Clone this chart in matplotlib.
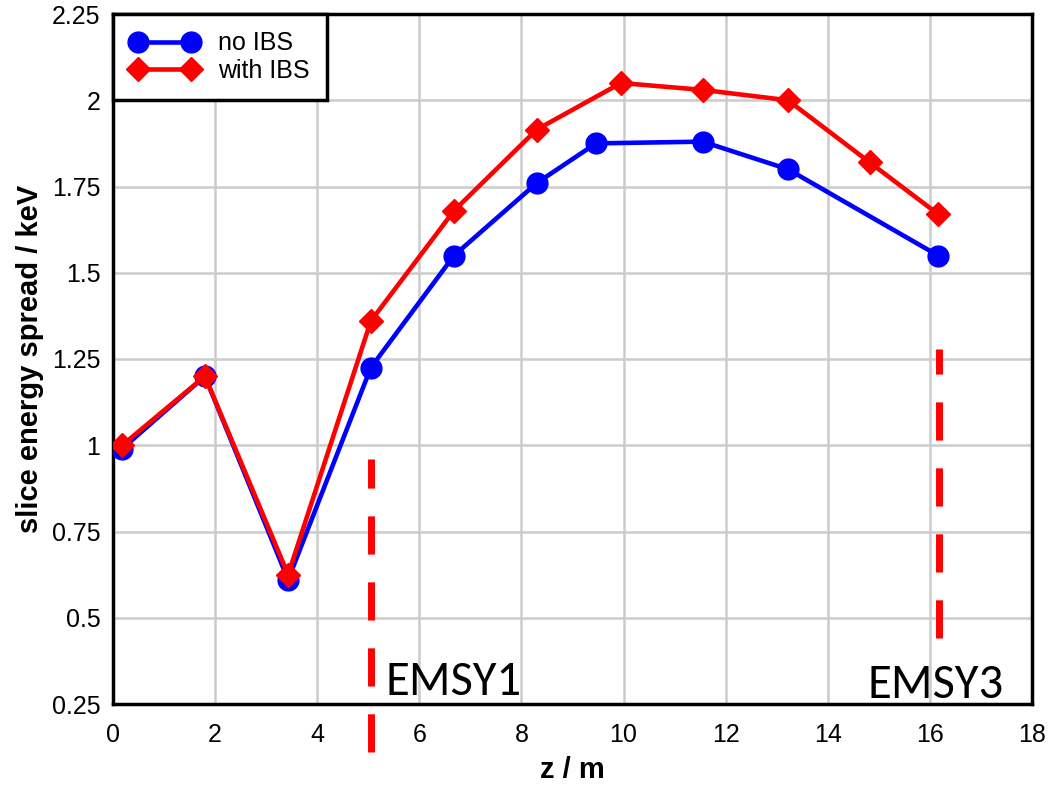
import matplotlib
matplotlib.use("Agg")
import matplotlib.pyplot as plt

# slice energy spread along the beamline
z_no_ibs = [0.18, 1.80, 3.43, 5.05, 6.68, 8.30, 9.46, 11.55, 13.22, 16.16]
spread_no_ibs = [0.99, 1.20, 0.61, 1.225, 1.55, 1.76, 1.875, 1.88, 1.80, 1.55]

z_with_ibs = [0.18, 1.80, 3.43, 5.05, 6.68, 8.30, 9.95, 11.55, 13.22, 14.82, 16.16]
spread_with_ibs = [1.00, 1.20, 0.625, 1.36, 1.68, 1.915, 2.05, 2.03, 2.00, 1.82, 1.67]

# screen positions and the vertical extent of their markers
screen_names = ["EMSY1", "EMSY3"]
screen_z = [5.05, 16.18]
screen_ymin = [0.11, 0.44]
screen_ymax = [0.96, 1.28]

x_ticks = list(range(0, 19, 2))
y_ticks = [0.25, 0.5, 0.75, 1.0, 1.25, 1.5, 1.75, 2.0, 2.25]
y_tick_labels = ["0.25", "0.5", "0.75", "1", "1.25", "1.5", "1.75", "2", "2.25"]

plt.rcParams["font.family"] = ["Liberation Sans", "DejaVu Sans"]

fig = plt.figure(figsize=(10.5, 7.86), dpi=100)
ax = fig.add_axes([113 / 1050, 1 - 704 / 786, (1032 - 113) / 1050, (704 - 14) / 786])

ax.plot(z_no_ibs, spread_no_ibs, color="#0000ff", lw=3.3, marker="o", ms=15,
        label="no IBS", zorder=3)
ax.plot(z_with_ibs, spread_with_ibs, color="#ff0000", lw=3.3, marker="D", ms=12,
        label="with IBS", zorder=4)

for name, z, y0, y1 in zip(screen_names, screen_z, screen_ymin, screen_ymax):
    ax.plot([z, z], [y0, y1], color="#ff0000", lw=5, ls=(0, (5.5, 4)),
            clip_on=False, zorder=5)

ax.text(5.33, 0.277, screen_names[0], fontsize=35, family="Carlito",
        ha="left", va="baseline", zorder=6)
ax.text(17.45, 0.267, screen_names[1], fontsize=35, family="Carlito",
        ha="right", va="baseline", zorder=6)

ax.set_xlim(0, 18)
ax.set_ylim(0.25, 2.25)
ax.set_xticks(x_ticks)
ax.set_yticks(y_ticks)
ax.set_yticklabels(y_tick_labels)
ax.tick_params(length=0, labelsize=18)
ax.tick_params(axis="x", pad=14)
ax.tick_params(axis="y", pad=9)
ax.grid(True, color="#cccccc", lw=1.8)
ax.set_axisbelow(True)
for sp in ax.spines.values():
    sp.set_linewidth(2.5)
    sp.set_color("black")

ax.set_xlabel("z / m", fontsize=21, fontweight="bold", labelpad=6)
ax.set_ylabel("slice energy spread / keV", fontsize=21, fontweight="bold", labelpad=6)

leg = ax.legend(loc="upper left", fontsize=18, numpoints=2, frameon=True,
                fancybox=False, borderaxespad=0, handlelength=2.7,
                borderpad=0.7, labelspacing=0.12, handletextpad=0.8)
leg.get_frame().set_edgecolor("black")
leg.get_frame().set_linewidth(2.5)
leg.get_frame().set_alpha(1)

fig.savefig("out.png", dpi=100)
